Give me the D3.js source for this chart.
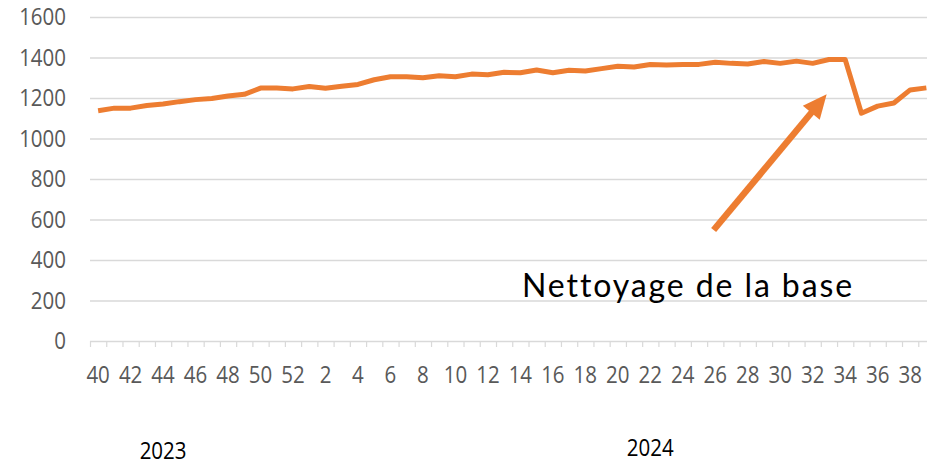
<!DOCTYPE html>
<html>
<head>
<meta charset="utf-8">
<script src="https://cdn.jsdelivr.net/npm/d3@7"></script>
<style>
  body { margin: 0; background: #fff; }
  svg { display: block; }
</style>
</head>
<body>
<svg id="chart" width="927" height="467"></svg>
<script>
// ISO weeks from week 40 of 2023 to week 39 of 2024
const weeks = [40, 41, 42, 43, 44, 45, 46, 47, 48, 49, 50, 51, 52,
  1, 2, 3, 4, 5, 6, 7, 8, 9, 10, 11, 12, 13, 14, 15, 16, 17, 18, 19, 20,
  21, 22, 23, 24, 25, 26, 27, 28, 29, 30, 31, 32, 33, 34, 35, 36, 37, 38, 39];

const values = [1137, 1150, 1150, 1163, 1170, 1182, 1192, 1198, 1210, 1218, 1249, 1249, 1245,
  1257, 1248, 1258, 1267, 1290, 1305, 1305, 1300, 1310, 1305, 1318, 1315, 1327, 1325,
  1338, 1325, 1337, 1333, 1345, 1357, 1353, 1365, 1363, 1366, 1366, 1377, 1371, 1368,
  1380, 1371, 1382, 1371, 1390, 1390, 1125, 1160, 1175, 1240, 1250];

const yTicks = [0, 200, 400, 600, 800, 1000, 1200, 1400, 1600];

const yearLabels = ["2023", "2024"];
const yearAnchor = [4, 34];          // index of the week the year label sits under

const noteText = "Nettoyage de la base";

const svg = d3.select("#chart");
const width = +svg.attr("width");

const plotLeft = 90, plotRight = 934.5, plotTop = 17, plotBottom = 341;
const stretch = 1.17;   // labels in the original are a bit taller than wide

const x = d3.scaleBand()
    .domain(d3.range(weeks.length))
    .range([plotLeft, plotRight])
    .padding(0);

// continuous version of the same axis, used for the between-category ticks and notes
const xIdx = d3.scaleLinear()
    .domain([-0.5, weeks.length - 0.5])
    .range([plotLeft, plotRight]);

const y = d3.scaleLinear()
    .domain([0, 1600])
    .range([plotBottom, plotTop]);

const orange = "#ED7D31";
const grey = "#595959";
const labelFont = "'Open Sans', sans-serif";

// gridlines + y labels
const yAxis = svg.append("g")
    .attr("transform", `translate(${plotLeft},0)`)
    .call(d3.axisLeft(y)
        .tickValues(yTicks)
        .tickSize(-(width - plotLeft))
        .tickPadding(24)
        .tickFormat(d3.format("d")));

yAxis.select(".domain").remove();
yAxis.selectAll(".tick line")
    .attr("stroke", "#d9d9d9")
    .attr("stroke-width", 1.5);
yAxis.selectAll(".tick text")
    .attr("fill", grey)
    .attr("transform", `scale(1,${stretch})`)
    .style("font-family", labelFont)
    .style("font-size", "20.5px");

// small tick marks between categories
const tickMarks = svg.append("g")
    .attr("transform", `translate(0,${plotBottom})`)
    .call(d3.axisBottom(xIdx)
        .tickValues(d3.range(weeks.length + 1).map(i => i - 0.5))
        .tickSize(6)
        .tickFormat(""));
tickMarks.select(".domain").remove();
tickMarks.selectAll(".tick line")
    .attr("stroke", "#d9d9d9")
    .attr("stroke-width", 1.2);

// week labels, every other week
const xAxis = svg.append("g")
    .attr("transform", `translate(0,${plotBottom})`)
    .call(d3.axisBottom(x)
        .tickSize(0)
        .tickFormat(i => i % 2 === 0 ? weeks[i] : ""));
xAxis.select(".domain").remove();
xAxis.selectAll(".tick text")
    .attr("fill", grey)
    .attr("y", 25 / stretch)
    .attr("transform", `scale(1,${stretch})`)
    .style("font-family", labelFont)
    .style("font-size", "20.5px");

// year labels
svg.selectAll(".year")
    .data(yearLabels)
    .join("text")
    .attr("class", "year")
    .attr("transform", (d, i) =>
        `translate(${x(yearAnchor[i]) + x.bandwidth() / 2},${i === 0 ? 459 : 456}) scale(1,${stretch})`)
    .attr("text-anchor", "middle")
    .attr("fill", "#000")
    .style("font-family", labelFont)
    .style("font-size", "20.5px")
    .text(d => d);

// the series
const line = d3.line()
    .x((d, i) => x(i) + x.bandwidth() / 2)
    .y(d => y(d));

svg.append("path")
    .datum(values)
    .attr("fill", "none")
    .attr("stroke", orange)
    .attr("stroke-width", 5)
    .attr("stroke-linejoin", "round")
    .attr("d", line);

// annotation arrow pointing at the drop
const tail = [xIdx(37.9), y(548)];
const tip = [xIdx(44.86), y(1218)];
const dx = tip[0] - tail[0], dy = tip[1] - tail[1];
const len = Math.hypot(dx, dy);
const ux = dx / len, uy = dy / len;
const headLen = 24, headHalf = 11;
const base = [tip[0] - ux * headLen, tip[1] - uy * headLen];

svg.append("line")
    .attr("x1", tail[0]).attr("y1", tail[1])
    .attr("x2", base[0] + ux * 2).attr("y2", base[1] + uy * 2)
    .attr("stroke", orange)
    .attr("stroke-width", 6.5);

svg.append("polygon")
    .attr("points", [
        tip,
        [base[0] - uy * headHalf, base[1] + ux * headHalf],
        [base[0] + uy * headHalf, base[1] - ux * headHalf]
    ].map(p => p.join(",")).join(" "))
    .attr("fill", orange);

svg.append("text")
    .attr("x", xIdx(26.1))
    .attr("y", y(217))
    .attr("fill", "#000")
    .style("font-family", "Lato, sans-serif")
    .style("font-size", "32px")
    .style("letter-spacing", "1.9px")
    .text(noteText);
</script>
</body>
</html>
